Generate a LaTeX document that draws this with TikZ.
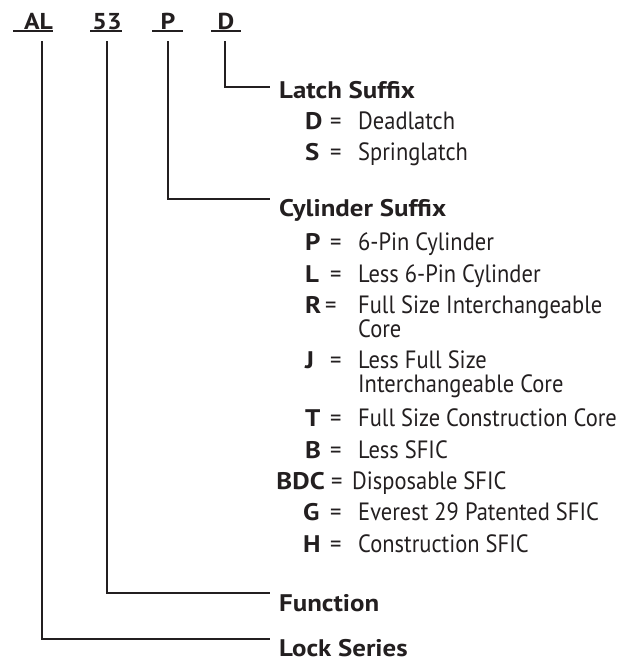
\documentclass[tikz,border=0pt]{standalone}
\usepackage{fontspec}
\setmainfont{PT Sans}
\newfontfamily\rgfont{PT Sans}[FakeStretch=0.9]
\newfontfamily\bdfont{PT Sans}[FakeStretch=1.12]
\definecolor{ink}{HTML}{231F20}
\begin{document}
\begin{tikzpicture}[x=1pt,y=-1pt,
  conn/.style={draw=ink,line width=2.8pt,line cap=butt,line join=miter},
  uline/.style={draw=ink,line width=1.7pt},
  code/.style={anchor=base,inner sep=0pt,text=ink,font=\bdfont\fontsize{23}{24}\selectfont\bfseries},
  head/.style={anchor=base west,inner sep=0pt,text=ink,font=\bdfont\fontsize{24}{24}\selectfont\bfseries},
  key/.style={anchor=base west,inner sep=0pt,text=ink,font=\bdfont\fontsize{24}{24}\selectfont\bfseries},
  eq/.style={anchor=base west,inner sep=0pt,text=ink,font=\rgfont\fontsize{25}{24}\selectfont},
  desc/.style={anchor=base west,inner sep=0pt,text=ink,font=\rgfont\fontsize{25}{24}\selectfont}]
\useasboundingbox (0,0) rectangle (636,662);
% header codes
\node[code] (tAL) at (38.5,29) {AL};
\node[code] (t53) at (107,29) {53};
\node[code] (tP) at (168,29) {P};
\node[code] (tD) at (226,29) {D};
\draw[uline] (13,31) -- (53,31);
\draw[uline] (90,31) -- (122,31);
\draw[uline] (152,31) -- (183,31);
\draw[uline] (211,31) -- (241,31);
% connector start points
\coordinate (sAL) at (42,41);
\coordinate (s53) at (107,41);
\coordinate (sP) at (168,41);
\coordinate (sD) at (225,41);
% connector end points
\coordinate (eD) at (270,87);
\coordinate (eP) at (270,199);
\coordinate (e53) at (270,593);
\coordinate (eAL) at (270,639);
\draw[conn] (sD) |- (eD);
\draw[conn] (sP) |- (eP);
\draw[conn] (s53) |- (e53);
\draw[conn] (sAL) |- (eAL);
% headings
\node[head] (latch) at (279,98) {Latch Suffix};
\node[head] (cyl) at (279,216) {Cylinder Suffix};
\node[head] (func) at (279,611) {Function};
\node[head] (lock) at (279,656) {Lock Series};
% latch items
\node[key] (kD) at (305,129) {D};
\node[eq] (qD) at (330,129) {=};
\node[desc] (dD) at (358,129) {Deadlatch};
\node[key] (kS) at (305,160) {S};
\node[eq] (qS) at (330,160) {=};
\node[desc] (dS) at (358,160) {Springlatch};
% cylinder items
\node[key] (kP) at (305,250) {P};
\node[eq] (qP) at (330,250) {=};
\node[desc] (dP) at (358,250) {6-Pin Cylinder};
\node[key] (kL) at (305,282) {L};
\node[eq] (qL) at (330,282) {=};
\node[desc] (dL) at (358,282) {Less 6-Pin Cylinder};
\node[key] (kR) at (305,313) {R};
\node[eq] (qR) at (325,313) {=};
\node[desc] (dR) at (358,313) {Full Size Interchangeable};
\node[desc] (dR2) at (358,337) {Core};
\node[key] (kJ) at (305,368) {J};
\node[eq] (qJ) at (330,368) {=};
\node[desc] (dJ) at (358,368) {Less Full Size};
\node[desc] (dJ2) at (358,392) {Interchangeable Core};
\node[key] (kT) at (305,426) {T};
\node[eq] (qT) at (330,426) {=};
\node[desc] (dT) at (358,426) {Full Size Construction Core};
\node[key] (kB) at (305,458) {B};
\node[eq] (qB) at (330,458) {=};
\node[desc] (dB) at (358,458) {Less SFIC};
\node[key,anchor=base east] (kBDC) at (325,489) {BDC};
\node[eq] (qBDC) at (331,489) {=};
\node[desc] (dBDC) at (352,489) {Disposable SFIC};
\node[key] (kG) at (303,520) {G};
\node[eq] (qG) at (330,520) {=};
\node[desc] (dG) at (358,520) {Everest 29 Patented SFIC};
\node[key] (kH) at (303,552) {H};
\node[eq] (qH) at (330,552) {=};
\node[desc] (dH) at (358,552) {Construction SFIC};
\end{tikzpicture}
\end{document}
